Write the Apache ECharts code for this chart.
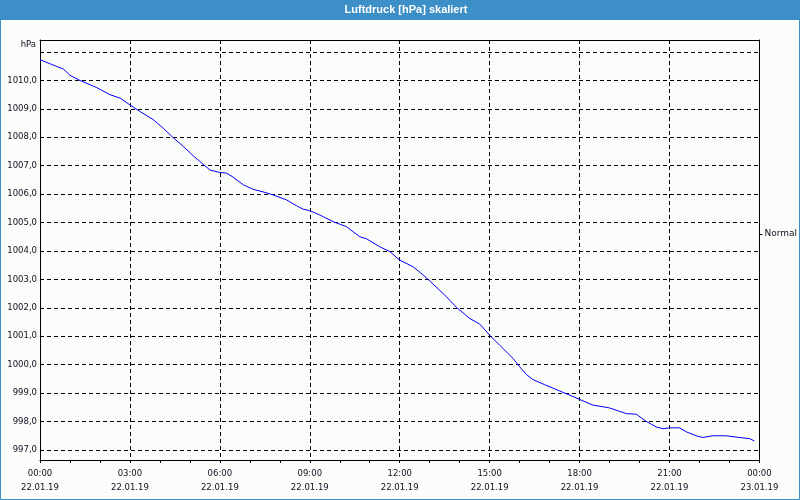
<!DOCTYPE html>
<html><head><meta charset="utf-8">
<script src="https://cdn.jsdelivr.net/npm/echarts@6/dist/echarts.min.js"></script>
<style>html,body{margin:0;padding:0;background:#fbfdfb}#c{width:800px;height:500px}</style>
</head><body><div id="c"></div>
<script>
// ---- data ----
const hours = [0.00,0.35,0.78,1.00,1.33,1.89,2.33,2.67,3.00,3.33,3.78,4.11,4.44,4.78,5.11,5.33,5.67,6.00,6.22,6.44,6.78,7.11,7.44,7.78,8.22,8.56,8.78,9.00,9.33,9.78,10.22,10.67,10.89,11.33,11.67,12.00,12.44,12.78,13.11,13.56,13.89,14.33,14.67,15.00,15.33,15.78,16.00,16.22,16.44,16.83,17.33,17.67,18.00,18.44,18.78,19.00,19.22,19.56,19.89,20.22,20.56,20.78,21.00,21.33,21.56,21.89,22.11,22.44,22.89,23.33,23.67,23.83];
const pressure = [1010.73,1010.58,1010.40,1010.18,1010.00,1009.75,1009.50,1009.38,1009.14,1008.91,1008.62,1008.32,1007.99,1007.68,1007.35,1007.15,1006.85,1006.76,1006.74,1006.60,1006.33,1006.17,1006.08,1005.97,1005.80,1005.59,1005.47,1005.42,1005.27,1005.03,1004.86,1004.50,1004.43,1004.15,1003.98,1003.68,1003.45,1003.16,1002.84,1002.39,1002.02,1001.63,1001.43,1001.04,1000.69,1000.22,999.93,999.66,999.48,999.30,999.08,998.93,998.78,998.58,998.52,998.48,998.40,998.28,998.26,998.01,997.81,997.75,997.78,997.78,997.64,997.50,997.44,997.50,997.50,997.44,997.40,997.32];
const timeLabels = ['00:00','03:00','06:00','09:00','12:00','15:00','18:00','21:00','00:00'];
const dateLabels = ['22.01.19','22.01.19','22.01.19','22.01.19','22.01.19','22.01.19','22.01.19','22.01.19','23.01.19'];
const yTickMin = 997, yTickMax = 1011, yTickStep = 1;
const normalLevel = 1004.6;
const titleText = 'Luftdruck [hPa] skaliert';
const unitText = 'hPa';
const normalText = 'Normal';

// ---- layout ----
const FONT = 'DejaVu Sans';
const frameTop = 40, frameBottom = 460, gridTop = 52, gridBottom = 450;
const pxPerUnit = (gridBottom - gridTop) / (yTickMax - yTickMin);
const frameMax = yTickMax + (gridTop - frameTop) / pxPerUnit;
const frameMin = yTickMin - (frameBottom - gridBottom) / pxPerUnit;
const dash = {color:'#000', width:1, type:[4,3]};
const txt = {color:'#101020', fontFamily:FONT, fontSize:8.5};

const chart = echarts.init(document.getElementById('c'), null, {renderer:'canvas'});
chart.setOption({
  animation:false,
  backgroundColor:'#fbfdfb',
  graphic:[
    {type:'rect', shape:{x:0,y:0,width:800,height:20}, style:{fill:'#3c8fc7'}, z:10},
    {type:'rect', shape:{x:0.5,y:0.5,width:799,height:499}, style:{fill:null, stroke:'#3c8fc7', lineWidth:1}, z:10},
    {type:'text', x:406, y:10, style:{text:titleText, fill:'#fff', font:'bold 11px "Liberation Sans"', textAlign:'center', textVerticalAlign:'middle'}, z:11},
    {type:'text', x:36, y:45, style:{text:unitText, fill:'#101020', font:'8.5px "DejaVu Sans"', textAlign:'right', textVerticalAlign:'middle'}, z:11}
  ],
  grid:[
    {left:40, top:frameTop, width:720, height:frameBottom-frameTop, containLabel:false},
    {left:40, top:gridTop, width:720, height:gridBottom-gridTop, containLabel:false}
  ],
  xAxis:[
    {type:'value', gridIndex:0, min:0, max:24, interval:3, position:'bottom',
     axisLine:{show:true, lineStyle:{color:'#000', width:1}},
     axisTick:{show:true, length:3, inside:false, lineStyle:{color:'#000'}},
     minorTick:{show:true, splitNumber:3, length:3, lineStyle:{color:'#000'}},
     splitLine:{show:true, lineStyle:dash},
     axisLabel:Object.assign({margin:7, lineHeight:14, showMinLabel:true, showMaxLabel:true,
       formatter:v=>{const i=Math.round(v/3); return timeLabels[i]+'\n'+dateLabels[i];}}, txt)},
    {type:'value', gridIndex:0, min:0, max:24, position:'top',
     axisLine:{show:true, onZero:false, lineStyle:{color:'#000', width:1}},
     axisTick:{show:false}, axisLabel:{show:false}, splitLine:{show:false}},
    {type:'value', gridIndex:1, min:0, max:24, show:false, splitLine:{show:false}}
  ],
  yAxis:[
    {type:'value', gridIndex:0, min:frameMin, max:frameMax, position:'left',
     axisLine:{show:true, onZero:false, lineStyle:{color:'#000', width:1}},
     axisTick:{show:false}, axisLabel:{show:false}, splitLine:{show:false}},
    {type:'value', gridIndex:0, min:frameMin, max:frameMax, position:'right',
     axisLine:{show:true, onZero:false, lineStyle:{color:'#000', width:1}},
     axisTick:{show:true, length:3, inside:false, customValues:[normalLevel], lineStyle:{color:'#000'}},
     axisLabel:{show:true, margin:5, customValues:[normalLevel], formatter:()=>normalText, fontSize:9, color:'#101020', fontFamily:FONT},
     splitLine:{show:false}},
    {type:'value', gridIndex:1, min:yTickMin, max:yTickMax, interval:yTickStep, position:'left',
     axisLine:{show:false}, axisTick:{show:false},
     splitLine:{show:true, lineStyle:dash},
     axisLabel:Object.assign({margin:3, formatter:v=> v>=yTickMax ? '' : v.toFixed(1).replace('.',',')}, txt)}
  ],
  series:[{
    type:'line', xAxisIndex:0, yAxisIndex:0,
    data:hours.map((h,i)=>[h,pressure[i]]),
    showSymbol:false, symbol:'none',
    lineStyle:{color:'#0000ff', width:1}, z:5
  }]
});
</script></body></html>
